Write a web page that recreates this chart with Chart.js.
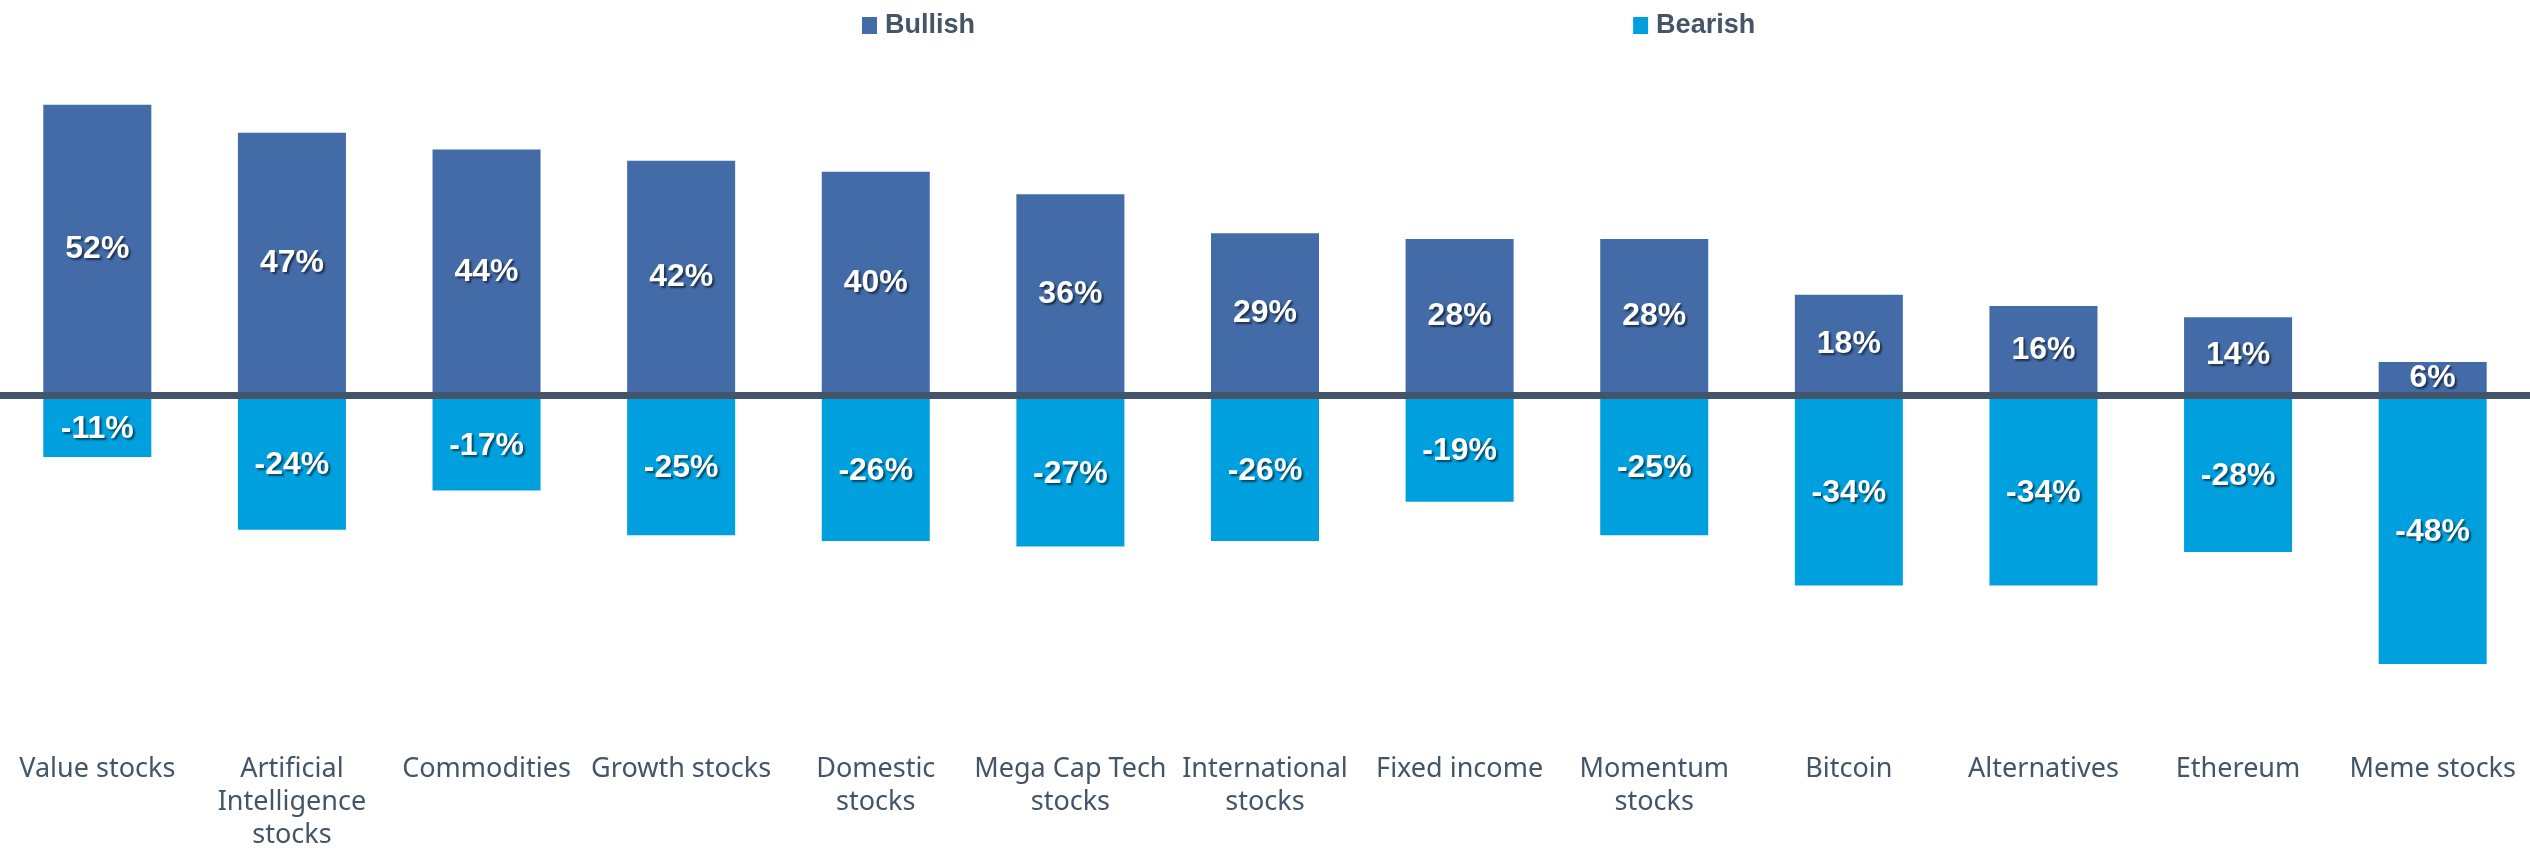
<!DOCTYPE html>
<html>
<head>
<meta charset="utf-8">
<script src="https://cdn.jsdelivr.net/npm/chart.js@4.4.1/dist/chart.umd.min.js"></script>
<style>
  html, body { margin: 0; padding: 0; background: #fff; }
  #wrap { width: 2530px; height: 849px; position: relative; }
</style>
</head>
<body>
<div id="wrap"><canvas id="chart"></canvas></div>
<script>
// Data
const categories = [
  'Value stocks',
  ['Artificial', 'Intelligence', 'stocks'],
  'Commodities',
  'Growth stocks',
  ['Domestic', 'stocks'],
  ['Mega Cap Tech', 'stocks'],
  ['International', 'stocks'],
  'Fixed income',
  ['Momentum', 'stocks'],
  'Bitcoin',
  'Alternatives',
  'Ethereum',
  'Meme stocks'
];
const bullish = [52, 47, 44, 42, 40, 36, 29, 28, 28, 18, 16, 14, 6];
const bearish = [-11, -24, -17, -25, -26, -27, -26, -19, -25, -34, -34, -28, -48];

const textColor = '#435566';
const colBull = '#426BA8';
const colBear = '#00A0DF';

// value labels in the middle of each bar, white with shadow
const barLabels = {
  id: 'barLabels',
  afterDatasetsDraw(chart) {
    const ctx = chart.ctx;
    ctx.save();
    ctx.font = 'bold 32px "Liberation Sans", Arial, sans-serif';
    ctx.textAlign = 'center';
    ctx.textBaseline = 'middle';
    ctx.fillStyle = '#fff';
    ctx.shadowColor = 'rgba(0,0,0,0.55)';
    ctx.shadowOffsetX = 2;
    ctx.shadowOffsetY = 2;
    ctx.shadowBlur = 2;
    chart.data.datasets.forEach((ds, i) => {
      const meta = chart.getDatasetMeta(i);
      meta.data.forEach((bar, j) => {
        const v = ds.data[j];
        const y = (bar.y + bar.base) / 2;
        ctx.fillText(v + '%', bar.x, y + 1);
      });
    });
    ctx.restore();
  }
};

// legend spread wide at the top
const topLegend = {
  id: 'topLegend',
  afterDraw(chart) {
    const ctx = chart.ctx;
    const w = chart.width;
    const spots = [0.3407, 0.6455];
    ctx.save();
    ctx.font = 'bold 27px "Liberation Sans", Arial, sans-serif';
    ctx.textBaseline = 'middle';
    ctx.textAlign = 'left';
    chart.data.datasets.forEach((ds, i) => {
      const x = w * spots[i];
      ctx.fillStyle = ds.backgroundColor;
      ctx.fillRect(x, 17, 15, 17);
      ctx.fillStyle = textColor;
      ctx.fillText(ds.label, x + 23, 26);
    });
    ctx.restore();
  }
};

const ctx = document.getElementById('chart').getContext('2d');
new Chart(ctx, {
  type: 'bar',
  data: {
    labels: categories,
    datasets: [
      { label: 'Bullish', data: bullish, backgroundColor: colBull, barPercentage: 0.555, categoryPercentage: 1 },
      { label: 'Bearish', data: bearish, backgroundColor: colBear, barPercentage: 0.555, categoryPercentage: 1 }
    ]
  },
  options: {
    responsive: true,
    maintainAspectRatio: false,
    animation: false,
    layout: { padding: { top: 60, left: 0, right: 0, bottom: 0 } },
    plugins: {
      legend: { display: false },
      tooltip: { enabled: false }
    },
    scales: {
      x: {
        stacked: true,
        grid: { display: false, drawTicks: false },
        border: { display: false },
        afterFit: s => { s.height = 118; s.paddingLeft = 0; s.paddingRight = 0; },
        ticks: {
          autoSkip: false,
          maxRotation: 0,
          minRotation: 0,
          padding: 22,
          color: textColor,
          font: { family: '"Noto Sans", "Open Sans", sans-serif', size: 27, lineHeight: 1.22 }
        }
      },
      y: {
        stacked: true,
        min: -60,
        max: 60,
        border: { display: false },
        afterFit: s => { s.width = 0; },
        grid: {
          drawTicks: false,
          color: c => (c.tick && c.tick.value === 0 ? '#44546A' : 'transparent'),
          lineWidth: c => (c.tick && c.tick.value === 0 ? 7 : 0)
        },
        ticks: { display: false, stepSize: 10 }
      }
    }
  },
  plugins: [barLabels, topLegend]
});
</script>
</body>
</html>
